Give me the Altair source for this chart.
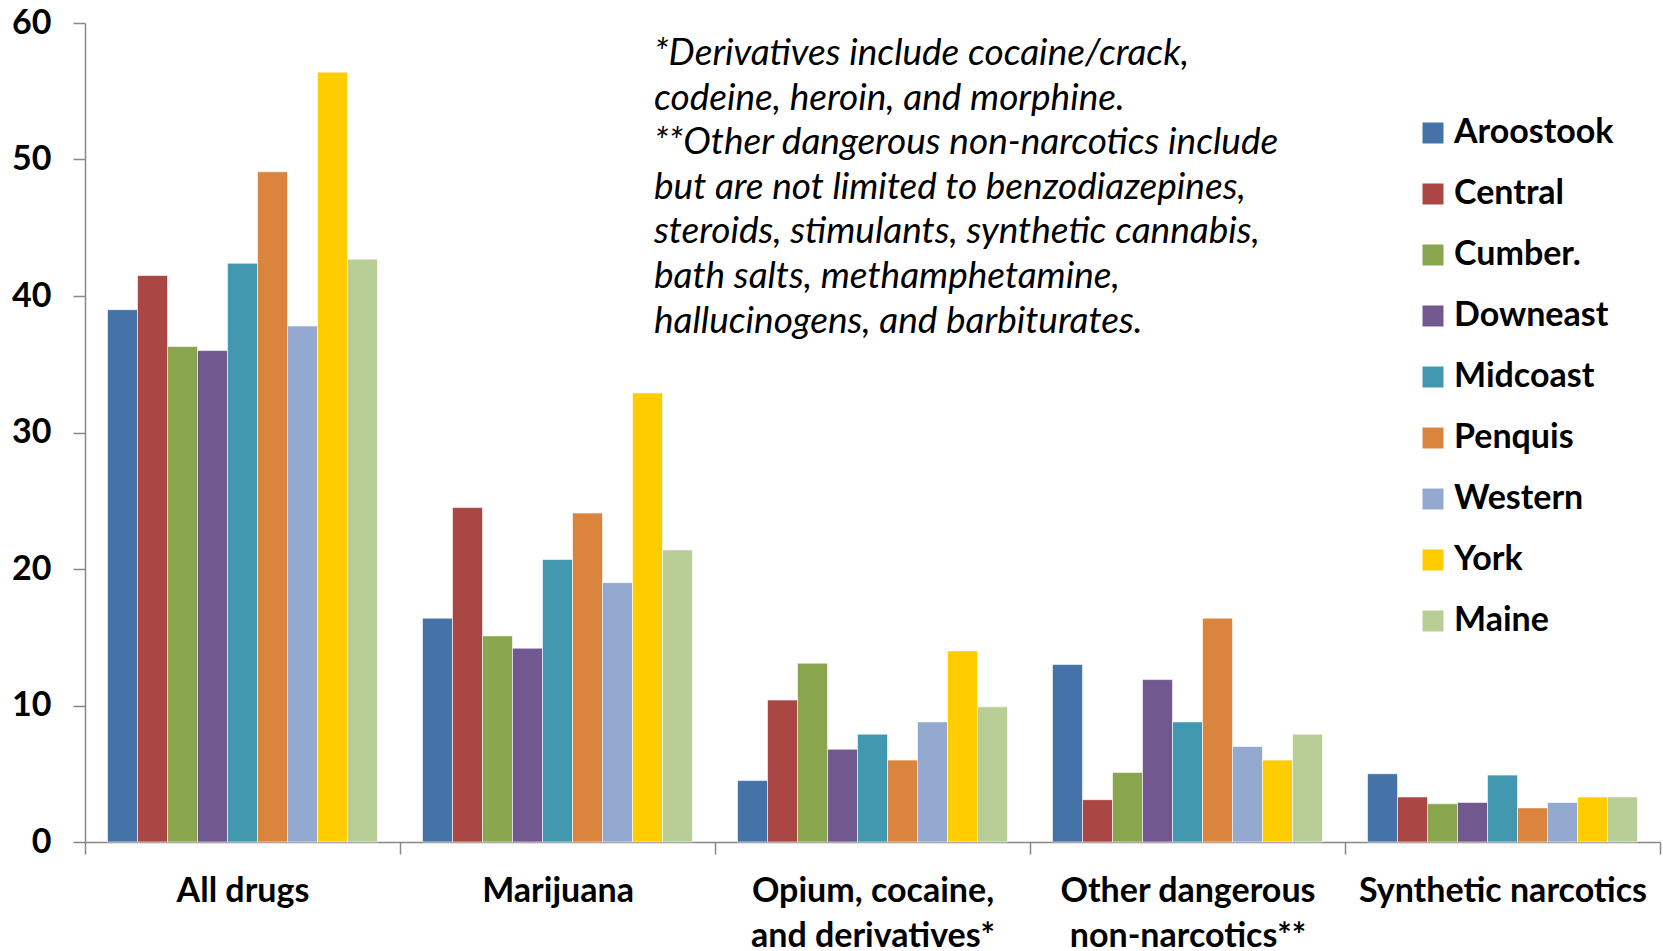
import altair as alt
import pandas as pd

# Drug categories (x axis) and regions (series)
categories = [
    "All drugs",
    "Marijuana",
    "Opium, cocaine,\nand derivatives*",
    "Other dangerous\nnon-narcotics**",
    "Synthetic narcotics",
]
regions = ["Aroostook", "Central", "Cumber.", "Downeast", "Midcoast",
           "Penquis", "Western", "York", "Maine"]
colors = ["#4572A7", "#AA4643", "#89A54E", "#71588F", "#4198AF",
          "#DB843D", "#93A9CF", "#FFCC00", "#B9CD96"]

# Values per region, in category order
aroostook = [39.0, 16.4, 4.5, 13.0, 5.0]
central = [41.5, 24.5, 10.4, 3.1, 3.3]
cumber = [36.3, 15.1, 13.1, 5.1, 2.8]
downeast = [36.0, 14.2, 6.8, 11.9, 2.9]
midcoast = [42.4, 20.7, 7.9, 8.8, 4.9]
penquis = [49.1, 24.1, 6.0, 16.4, 2.5]
western = [37.8, 19.0, 8.8, 7.0, 2.9]
york = [56.4, 32.9, 14.0, 6.0, 3.3]
maine = [42.7, 21.4, 9.9, 7.9, 3.3]

series = [aroostook, central, cumber, downeast, midcoast,
          penquis, western, york, maine]

note_lines = [
    "*Derivatives include cocaine/crack,",
    "codeine, heroin, and morphine.",
    "**Other dangerous non-narcotics include",
    "but are not limited to benzodiazepines,",
    "steroids, stimulants, synthetic cannabis,",
    "bath salts, methamphetamine,",
    "hallucinogens, and barbiturates.",
]

rows = []
for region, vals in zip(regions, series):
    for cat, v in zip(categories, vals):
        rows.append({"category": cat, "region": region, "value": v})
df = pd.DataFrame(rows)

FONT = "Lato"
AXIS_GRAY = "#878787"
LABEL_SIZE = 34

bars = alt.Chart(df).mark_bar(stroke="white", strokeWidth=0.6).encode(
    x=alt.X(
        "category:N",
        sort=categories,
        scale=alt.Scale(paddingInner=0, paddingOuter=0),
        axis=alt.Axis(
            title=None,
            labelAngle=0,
            labelExpr="split(datum.label, '\\n')",
            labelLimit=0,
            labelFont=FONT,
            labelFontSize=LABEL_SIZE,
            labelFontWeight="bold",
            labelColor="black",
            labelLineHeight=45,
            labelPadding=20,
            tickBand="extent",
            tickSize=12,
            tickColor=AXIS_GRAY,
            tickWidth=1.5,
            domainColor=AXIS_GRAY,
            domainWidth=1.5,
        ),
    ),
    # gap on both sides of each group of nine bars
    xOffset=alt.XOffset("region:N", sort=regions,
                        scale=alt.Scale(paddingInner=0, paddingOuter=0.75)),
    y=alt.Y(
        "value:Q",
        scale=alt.Scale(domain=[0, 60], nice=False),
        axis=alt.Axis(
            title=None,
            values=[0, 10, 20, 30, 40, 50, 60],
            grid=False,
            labelFont=FONT,
            labelFontSize=LABEL_SIZE,
            labelFontWeight="bold",
            labelColor="black",
            labelPadding=22,
            tickSize=12,
            tickColor=AXIS_GRAY,
            tickWidth=1.5,
            domainColor=AXIS_GRAY,
            domainWidth=1.5,
        ),
    ),
    color=alt.Color(
        "region:N",
        sort=regions,
        scale=alt.Scale(domain=regions, range=colors),
        legend=alt.Legend(
            title=None,
            orient="none",
            legendX=1331,
            legendY=93,
            symbolType="square",
            symbolSize=441,
            symbolStrokeWidth=0,
            labelFont=FONT,
            labelFontSize=LABEL_SIZE,
            labelFontWeight="bold",
            labelColor="black",
            labelOffset=4,
            labelLimit=0,
            rowPadding=27,
            padding=0,
        ),
    ),
)

note = alt.Chart(pd.DataFrame({"note": ["\n".join(note_lines)]})).mark_text(
    align="left",
    baseline="alphabetic",
    font=FONT,
    fontSize=37,
    fontStyle="italic",
    color="black",
    lineBreak="\n",
    lineHeight=44.6,
).encode(
    text="note:N",
    x=alt.value(569),
    y=alt.value(42),
)

chart = alt.layer(bars, note).properties(
    width=1575,
    height=819,
    autosize="none",
    padding={"left": 85, "top": 23, "right": 3, "bottom": 109},
    background="white",
).configure_view(stroke=None)

chart.save("out.html", embed_options={"renderer": "svg", "actions": False})
